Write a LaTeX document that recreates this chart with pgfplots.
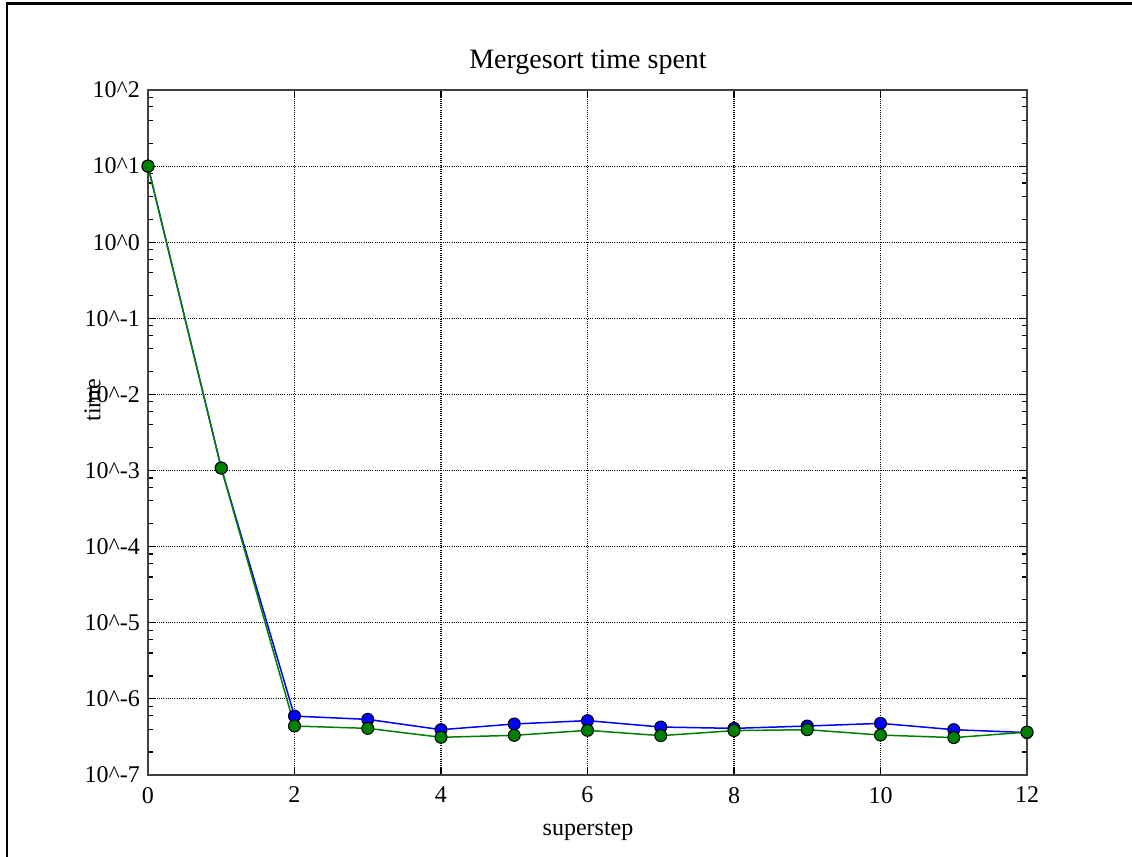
\documentclass[border=0pt]{standalone}
\usepackage{fontspec}
\setmainfont{Liberation Serif}
\usepackage{pgfplots}
\pgfplotsset{compat=1.18}
\definecolor{ser1}{RGB}{0,0,255}
\definecolor{ser2}{RGB}{0,128,0}
\begin{document}
\begin{tikzpicture}
\useasboundingbox (0,0) rectangle (566pt,428.5pt);
\draw[line width=1.2pt] (3.35pt,-5pt) -- (3.35pt,426.75pt) -- (575pt,426.75pt);
\begin{axis}[
  at={(74pt,41pt)}, anchor=south west,
  scale only axis, width=439.5pt, height=342.5pt,
  ymode=log, log basis y=10,
  xmin=0, xmax=12, ymin=1e-7, ymax=1e2,
  xtick={0,2,4,6,8,10,12},
  ytick={1e-7,1e-6,1e-5,1e-4,1e-3,1e-2,1e-1,1,10,100},
  yticklabels={10\textasciicircum-7,10\textasciicircum-6,10\textasciicircum-5,10\textasciicircum-4,10\textasciicircum-3,10\textasciicircum-2,10\textasciicircum-1,10\textasciicircum0,10\textasciicircum1,10\textasciicircum2},
  minor ytick={2e-7,4e-7,6e-7,8e-7,2e-6,4e-6,6e-6,8e-6,2e-5,4e-5,6e-5,8e-5,2e-4,4e-4,6e-4,8e-4,2e-3,4e-3,6e-3,8e-3,2e-2,4e-2,6e-2,8e-2,2e-1,4e-1,6e-1,8e-1,2,4,6,8,20,40,60,80},
  minor x tick num=0,
  tick align=inside,
  major tick length=4pt, minor tick length=2.5pt,
  tick style={black, line width=0.6pt},
  axis line style={black!75, line width=0.8pt},
  grid=major,
  major grid style={black, line width=0.55pt, dash pattern=on 0.55pt off 0.55pt},
  /pgf/number format/assume math mode=true,
  tick label style={font=\fontsize{12}{14}\selectfont, black},
  yticklabel style={xshift=-0.5pt},
  xticklabel style={yshift=-2.5pt},
  title={Mergesort time spent},
  title style={font=\fontsize{14}{16}\selectfont, at={(axis description cs:0.5006,1.0307)}, anchor=base, yshift=-6pt},
  xlabel={superstep},
  xlabel style={font=\fontsize{12}{14}\selectfont, at={(axis description cs:0.5006,-0.0876)}, anchor=base},
  ylabel={time},
  ylabel style={font=\fontsize{12}{14}\selectfont, at={(axis description cs:-0.063,0.547)}, anchor=center, rotate=0},
  clip=false,
]
\addplot[color=ser1, line width=0.75pt, mark=*, mark size=3pt, mark options={fill=ser1, draw=black, line width=0.5pt}]
 coordinates {(0,10) (1,1.08e-3) (2,5.94e-7) (3,5.38e-7) (4,3.94e-7) (5,4.68e-7) (6,5.18e-7) (7,4.27e-7) (8,4.10e-7) (9,4.40e-7) (10,4.77e-7) (11,3.94e-7) (12,3.61e-7)};
\addplot[color=ser2, line width=0.75pt, mark=*, mark size=3pt, mark options={fill=ser2, draw=black, line width=0.5pt}]
 coordinates {(0,10) (1,1.08e-3) (2,4.40e-7) (3,4.10e-7) (4,3.13e-7) (5,3.32e-7) (6,3.86e-7) (7,3.29e-7) (8,3.83e-7) (9,3.94e-7) (10,3.35e-7) (11,3.10e-7) (12,3.66e-7)};
\end{axis}
\end{tikzpicture}
\end{document}
